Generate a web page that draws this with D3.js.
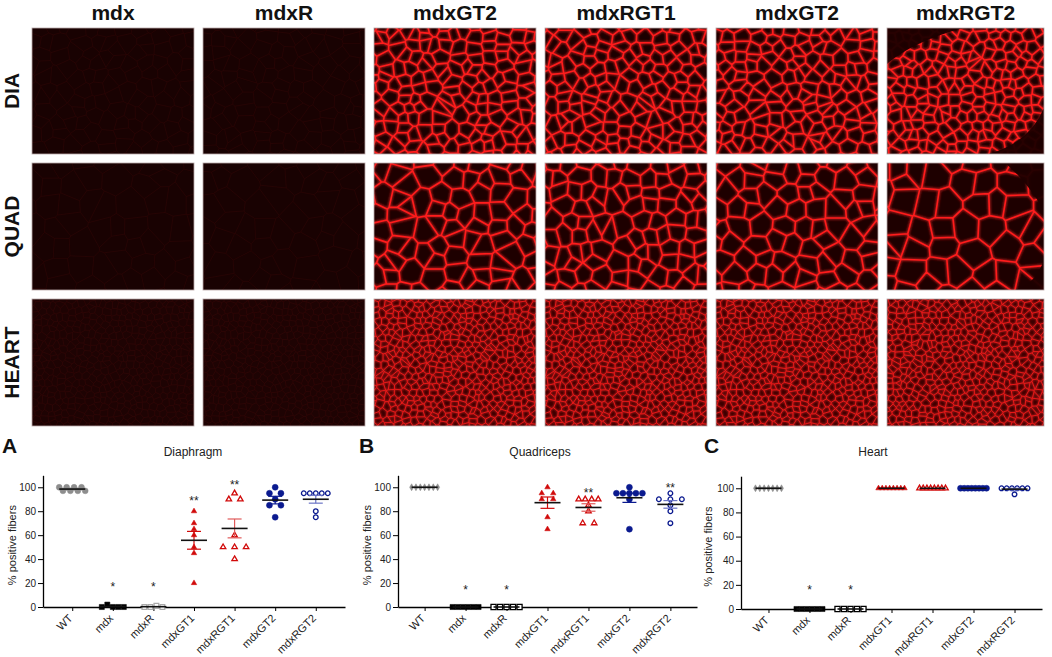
<!DOCTYPE html>
<html><head><meta charset="utf-8">
<script src="https://cdn.jsdelivr.net/npm/d3@7"></script>
<style>
html,body{margin:0;padding:0;background:#fff;}
svg{display:block;font-family:"Liberation Sans",Arial,sans-serif;}
</style></head>
<body>
<svg id="fig" width="1052" height="657"></svg>
<script>
// ---------- labels ----------
const colLabels = ["mdx","mdxR","mdxGT2","mdxRGT1","mdxGT2","mdxRGT2"];
const rowLabels = ["DIA","QUAD","HEART"];
const groups = ["WT","mdx","mdxR","mdxGT1","mdxRGT1","mdxGT2","mdxRGT2"];
const yTicks = [0,20,40,60,80,100];

// ---------- data: % positive fibers ----------
const diaWT   = [100,97,100,97,100,97,100,97];
const diaMdx  = [0,2,0,0,0];
const diaMdxR = [0,0,1,0];
const diaGT1  = [80,70,65,60,50,45,20];
const diaRGT1 = [95,90,90,60,50,50,50,40];
const diaGT2  = [100,95,95,90,85,85,75];
const diaRGT2 = [95,95,95,95,95,80,75];

const quadWT   = [100,100,100,100,100,100,100];
const quadMdx  = [0,0,0,0,0,0];
const quadMdxR = [0,0,0,0,0];
const quadGT1  = [100,95,95,90,90,75,65];
const quadRGT1 = [90,90,90,90,85,80,70,70];
const quadGT2  = [100,95,95,95,95,95,90,65];
const quadRGT2 = [95,90,90,90,85,80,70];

const heartWT   = [100,100,100,100,100,100,100];
const heartMdx  = [0,0,0,0,0,0];
const heartMdxR = [0,0,0,0,0];
const heartGT1  = [100,100,100,100,100,100,100,100];
const heartRGT1 = [100,100,100,100,100,100,100,100];
const heartGT2  = [100,100,100,100,100,100,100,100];
const heartRGT2 = [100,100,100,100,100,100,95];

// significance marks and their level (in % units)
const diaStars   = ["","*","*","**","**","",""];
const diaStarLv  = [0,19,19,91,104,0,0];
const quadStars  = ["","*","*","","**","","**"];
const quadStarLv = [0,17,17,0,98,0,102];
const heartStars = ["","*","*","","","",""];
const heartStarLv= [0,18,18,0,0,0,0];

const svg = d3.select("#fig");
const defs = svg.append("defs");
defs.append("filter").attr("id", "soft").attr("x", "-5%").attr("y", "-5%").attr("width", "110%").attr("height", "110%")
  .append("feGaussianBlur").attr("stdDeviation", 1.1);

// ---------- microscopy-like panels (texture only) ----------
let clipId = 0;
function tissue(px, py, w, h, o) {
  const rng = d3.randomLcg(o.seed);
  const pts = [];
  let row = 0;
  for (let yy = -o.sy; yy < h + o.sy; yy += o.sy, row++) {
    for (let xx = -o.sx; xx < w + o.sx; xx += o.sx) {
      pts.push([xx + (row % 2) * o.sx / 2 + (rng() - 0.5) * o.sx * 0.85,
                yy + (rng() - 0.5) * o.sy * 0.85]);
    }
  }
  const vor = d3.Delaunay.from(pts).voronoi([-4, -4, w + 4, h + 4]);
  const id = "clip" + (clipId++);
  defs.append("clipPath").attr("id", id).append("rect").attr("width", w).attr("height", h);
  const g = svg.append("g").attr("transform", `translate(${px},${py})`);
  const gi = g.append("g").attr("clip-path", `url(#${id})`);
  gi.append("rect").attr("width", w).attr("height", h).attr("fill", o.bg);
  const d = vor.render();
  if (o.glow) gi.append("path").attr("d", d).attr("fill", "none")
      .attr("stroke", o.glow).attr("stroke-width", o.sw * 2.2).attr("stroke-opacity", 0.55)
      .attr("stroke-linejoin", "round").attr("filter", "url(#soft)");
  gi.append("path").attr("d", d).attr("fill", "none").attr("stroke", o.stroke)
    .attr("stroke-width", o.sw).attr("stroke-opacity", o.op || 1).attr("stroke-linejoin", "round");
  (o.dark || []).forEach(p => gi.append("path").attr("d", p).attr("fill", o.bg).attr("fill-opacity", 0.95));
  g.append("rect").attr("width", w).attr("height", h).attr("fill", "none")
    .attr("stroke", "#b8a8a8").attr("stroke-width", 0.8);
}

const colX = d3.range(6).map(i => 32 + 171 * i);
const colW = [162,162,162,162,162,157];
const rowY = [28, 163, 299];
const rowH = [126, 127, 127];

rowLabels.forEach((r, ri) => {
  colLabels.forEach((c, ci) => {
    const dim = ci < 2;
    const heart = ri === 2;
    let o;
    if (dim) {
      o = heart ? {sx: 7, sy: 6, bg: "#1e0303", stroke: "#360707", sw: 0.8, op: 0.7}
                : {sx: ri === 0 ? 16 : 22, sy: ri === 0 ? 12 : 20, bg: "#190202", stroke: "#360606", sw: 0.9, op: 0.5};
    } else if (heart) {
      o = {sx: 7.5, sy: 5.5, bg: "#3a0000", stroke: "#f21a1a", glow: "#ff2a2a", sw: 0.9};
    } else if (ri === 0) {
      o = {sx: ci === 5 ? 11 : 14, sy: ci === 5 ? 9 : 10, bg: "#1c0000", stroke: "#ff1c1c", glow: "#ff2a2a", sw: 1.6};
    } else {
      const big = ci === 5 ? 25 : (ci === 3 ? 17 : 19);
      o = {sx: big, sy: big * 0.85, bg: "#1e0000", stroke: "#ff1c1c", glow: "#ff2a2a", sw: 1.6};
    }
    o.seed = (ri * 7 + ci) * 0.0731 + 0.013;
    if (ri === 0 && ci === 5) o.dark = ["M0,0L0,36Q25,14 76,0Z", "M157,80Q142,116 98,127L157,127Z"];
    if (ri === 1 && ci === 5) o.dark = ["M118,0L157,0L157,48Q140,18 118,0Z", "M157,96Q150,120 128,127L157,127Z"];
    tissue(colX[ci], rowY[ri], colW[ci], rowH[ri], o);
  });
});

// column headers and row labels
svg.selectAll("text.col").data(colLabels).join("text").attr("class", "col")
  .attr("x", (d, i) => colX[i] + colW[i] / 2).attr("y", 20)
  .attr("text-anchor", "middle").attr("font-weight", "bold").attr("font-size", 21).attr("fill", "#111")
  .text(d => d);
svg.selectAll("text.row").data(rowLabels).join("text").attr("class", "row")
  .attr("transform", (d, i) => `translate(19,${rowY[i] + rowH[i] / 2}) rotate(-90)`)
  .attr("text-anchor", "middle").attr("font-weight", "bold").attr("font-size", 21).attr("fill", "#111")
  .text(d => d);

// ---------- dot plots ----------
const GRAY = "#8d8d8d", RED = "#d10a0a", NAVY = "#0b1a8f";
function styleFor(gi, panel) {
  switch (gi) {
    case 0: return panel === 0 ? {sym: d3.symbolCircle, size: 27, fill: GRAY, stroke: GRAY, w: 6.5}
                               : {sym: d3.symbolDiamond, size: 14, fill: GRAY, stroke: GRAY, w: 5};
    case 1: return {sym: d3.symbolSquare, size: 26, fill: "#000", stroke: "#000", w: 5.5};
    case 2: return panel === 0 ? {sym: d3.symbolSquare, size: 22, fill: "#fff", stroke: "#aaa", w: 6, open: true}
                               : {sym: d3.symbolSquare, size: 26, fill: "#fff", stroke: "#000", w: 6.5, open: true};
    case 3: return {sym: d3.symbolTriangle, size: 13, fill: RED, stroke: RED, w: 6};
    case 4: return {sym: d3.symbolTriangle, size: 13, fill: "#fff", stroke: RED, w: 6.5, open: true};
    case 5: return {sym: d3.symbolCircle, size: 28, fill: NAVY, stroke: NAVY, w: 6.5};
    case 6: return {sym: d3.symbolCircle, size: 17, fill: "#fff", stroke: NAVY, w: 6, open: true};
  }
}
const semColor = [GRAY, "#000", "#888", RED, "#e05a5a", NAVY, "#6b74c6"];

const panels = [
  {letter: "A", lx: 2, title: "Diaphragm", tx: 193, ax: 43, ae: 345, pad: 0.72, y0: 607, y110: 475.3, ylx: 12,
   data: [diaWT, diaMdx, diaMdxR, diaGT1, diaRGT1, diaGT2, diaRGT2], stars: diaStars, lv: diaStarLv},
  {letter: "B", lx: 359, title: "Quadriceps", tx: 540, ax: 398, ae: 697, pad: 0.65, y0: 607, y110: 475.3, ylx: 367,
   data: [quadWT, quadMdx, quadMdxR, quadGT1, quadRGT1, quadGT2, quadRGT2], stars: quadStars, lv: quadStarLv},
  {letter: "C", lx: 704, title: "Heart", tx: 873, ax: 741, ae: 1042, pad: 0.67, y0: 609, y110: 476.2, ylx: 708,
   data: [heartWT, heartMdx, heartMdxR, heartGT1, heartRGT1, heartGT2, heartRGT2], stars: heartStars, lv: heartStarLv}
];

panels.forEach((p, pi) => {
  const x = d3.scalePoint().domain(groups).range([p.ax, p.ae]).padding(p.pad);
  const y = d3.scaleLinear().domain([0, 110]).range([p.y0, p.y110]);
  const g = svg.append("g");

  g.append("text").attr("x", p.lx).attr("y", 453).attr("font-weight", "bold").attr("font-size", 21)
    .attr("fill", "#111").text(p.letter);
  g.append("text").attr("x", p.tx).attr("y", 456).attr("text-anchor", "middle").attr("font-size", 12)
    .attr("fill", "#222").text(p.title);
  g.append("text").attr("transform", `translate(${p.ylx},${(y(0) + y(110)) / 2 + 4}) rotate(-90)`)
    .attr("text-anchor", "middle").attr("dy", "0.35em").attr("font-size", 11).attr("fill", "#222")
    .text("% positive fibers");

  const ya = g.append("g").attr("transform", `translate(${p.ax},0)`)
    .call(d3.axisLeft(y).tickValues(yTicks).tickSize(5).tickSizeOuter(0).tickPadding(2));
  ya.selectAll("text").attr("font-size", 10).attr("fill", "#222").attr("font-family", "Liberation Sans, Arial");
  ya.select(".domain").attr("stroke-width", 1.3);

  const xa = g.append("g").attr("transform", `translate(0,${p.y0})`)
    .call(d3.axisBottom(x).tickSize(4).tickSizeOuter(0));
  xa.select(".domain").attr("stroke-width", 1.3);
  xa.selectAll("text").attr("font-size", 11).attr("fill", "#222").attr("font-family", "Liberation Sans, Arial")
    .attr("x", -8).attr("y", 5).attr("dy", "0.35em").attr("transform", "rotate(-45)")
    .style("text-anchor", "end");

  p.data.forEach((vals, gi) => {
    const st = styleFor(gi, pi);
    const cx = x(groups[gi]);
    // cluster near-equal values so they spread side by side
    const order = vals.map((v, i) => i).sort((a, b) => vals[b] - vals[a] || a - b);
    const clusters = [];
    order.forEach(i => {
      const last = clusters[clusters.length - 1];
      if (last && Math.abs(vals[last[last.length - 1]] - vals[i]) <= 3) last.push(i);
      else clusters.push([i]);
    });
    const pos = [];
    clusters.forEach(cl => {
      cl.sort((a, b) => a - b);
      const n = cl.length;
      const sp = n <= 1 ? 0 : (n <= 3 ? 11.5 : Math.min(st.w, 26 / (n - 1)));
      cl.forEach((i, k) => pos.push({v: vals[i], dx: (k - (n - 1) / 2) * sp}));
    });
    const sym = d3.symbol().type(st.sym).size(st.size);
    g.append("g").selectAll("path").data(pos).join("path")
      .attr("transform", d => `translate(${cx + d.dx},${y(d.v)})`)
      .attr("d", sym())
      .attr("fill", st.fill).attr("stroke", st.stroke).attr("stroke-width", st.open ? 1.3 : 0.5);

    // mean and SEM
    const m = d3.mean(vals);
    const sem = vals.length > 1 ? d3.deviation(vals) / Math.sqrt(vals.length) : 0;
    const eg = g.append("g");
    if (sem > 0.3) {
      eg.append("line").attr("x1", cx).attr("x2", cx).attr("y1", y(m - sem)).attr("y2", y(m + sem))
        .attr("stroke", semColor[gi]).attr("stroke-width", 1.2);
      [m - sem, m + sem].forEach(v => eg.append("line").attr("x1", cx - 7).attr("x2", cx + 7)
        .attr("y1", y(v)).attr("y2", y(v)).attr("stroke", semColor[gi]).attr("stroke-width", 1.2));
    }
    eg.append("line").attr("x1", cx - 13).attr("x2", cx + 13).attr("y1", y(m)).attr("y2", y(m))
      .attr("stroke", "#111").attr("stroke-width", 1.6);

    if (p.stars[gi]) {
      g.append("text").attr("x", cx).attr("y", y(p.lv[gi]) + 7).attr("text-anchor", "middle")
        .attr("font-size", 12).attr("fill", "#222").text(p.stars[gi]);
    }
  });
});
</script>
</body></html>
